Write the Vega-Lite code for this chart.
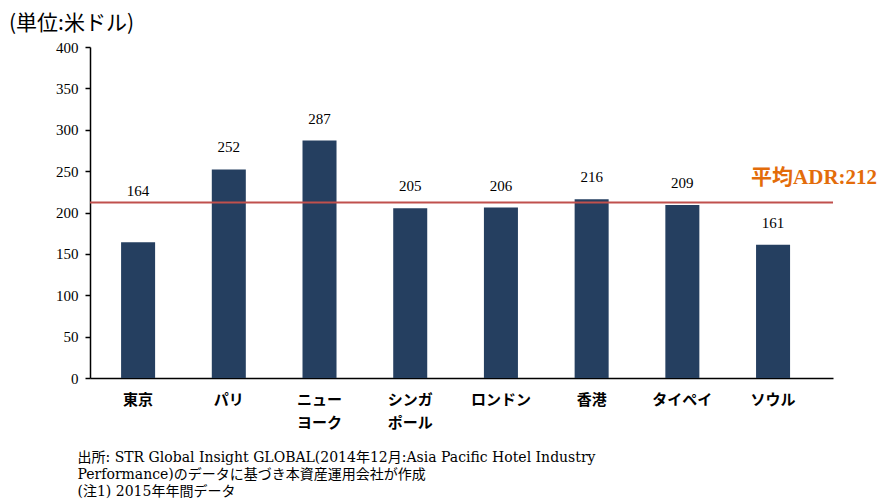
{
  "$schema": "https://vega.github.io/schema/vega-lite/v6.json",
  "width": 743,
  "height": 331,
  "autosize": "none",
  "padding": {"left": 90, "top": 47, "right": 48, "bottom": 124},
  "background": "white",
  "config": {"view": {"stroke": null}},
  "title": {"text": "(単位:米ドル)", "anchor": "start", "frame": "group", "dx": -81, "offset": 6, "fontSize": 21, "font": "Noto Sans CJK JP", "fontWeight": "normal", "color": "black"},
  "data": {"values": [
    {"city": "東京", "adr": 164},
    {"city": "パリ", "adr": 252},
    {"city": "ニューヨーク", "adr": 287},
    {"city": "シンガポール", "adr": 205},
    {"city": "ロンドン", "adr": 206},
    {"city": "香港", "adr": 216},
    {"city": "タイペイ", "adr": 209},
    {"city": "ソウル", "adr": 161}
  ]},
  "layer": [
    {
      "mark": {"type": "bar", "color": "#253F60"},
      "encoding": {
        "x": {"field": "city", "type": "nominal", "sort": null,
          "scale": {"paddingInner": 0.625, "paddingOuter": 0.408, "align": 0.42},
          "axis": {
            "title": ["出所: STR Global Insight GLOBAL(2014年12月:Asia Pacific Hotel Industry", "Performance)のデータに基づき本資産運用会社が作成", "(注1) 2015年年間データ"],
            "titleFont": "DejaVu Serif, Noto Sans CJK JP", "titleFontSize": 14, "titleFontWeight": "normal", "titleColor": "black",
            "titleAnchor": "start", "titleAlign": "left", "titleBaseline": "top", "titleX": -13, "titleY": 72, "titleLineHeight": 17,
            "labelAngle": 0, "labelFont": "Noto Sans CJK JP", "labelFontSize": 15, "labelFontWeight": "bold", "labelColor": "black",
            "labelPadding": 14, "labelLineHeight": 23, "ticks": false, "domainColor": "black", "domainWidth": 1.5,
            "labelExpr": "datum.value == 'ニューヨーク' ? ['ニュー','ヨーク'] : datum.value == 'シンガポール' ? ['シンガ','ポール'] : datum.value"
          }
        },
        "y": {"field": "adr", "type": "quantitative",
          "scale": {"domain": [0, 400]},
          "axis": {"title": null, "values": [0, 50, 100, 150, 200, 250, 300, 350, 400], "grid": false,
            "labelFont": "Liberation Serif", "labelFontSize": 15, "labelColor": "black", "labelPadding": 7,
            "tickSize": 5, "tickColor": "black", "tickWidth": 1.5, "domainColor": "black", "domainWidth": 1.5}
        }
      }
    },
    {
      "transform": [{"filter": "datum.city != '東京'"}],
      "mark": {"type": "text", "baseline": "bottom", "dy": -14, "font": "Liberation Serif", "fontSize": 15, "color": "black"},
      "encoding": {
        "x": {"field": "city", "type": "nominal", "sort": null},
        "y": {"field": "adr", "type": "quantitative"},
        "text": {"field": "adr", "type": "quantitative"}
      }
    },
    {
      "transform": [{"filter": "datum.city == '東京'"}],
      "mark": {"type": "text", "baseline": "bottom", "dy": -43, "font": "Liberation Serif", "fontSize": 15, "color": "black"},
      "encoding": {
        "x": {"field": "city", "type": "nominal", "sort": null},
        "y": {"field": "adr", "type": "quantitative"},
        "text": {"field": "adr", "type": "quantitative"}
      }
    },
    {
      "data": {"values": [{"avg": 212}]},
      "mark": {"type": "rule", "color": "#C0504D", "strokeWidth": 2},
      "encoding": {"y": {"field": "avg", "type": "quantitative"}}
    },
    {
      "data": {"values": [{"avg": 212, "city": "ソウル", "label": "平均ADR:212"}]},
      "mark": {"type": "text", "baseline": "middle", "align": "center", "dx": 41, "dy": -25, "font": "Liberation Serif, Noto Sans CJK JP", "fontSize": 21, "fontWeight": "bold", "color": "#E36C0A"},
      "encoding": {
        "x": {"field": "city", "type": "nominal", "sort": null},
        "y": {"field": "avg", "type": "quantitative"},
        "text": {"field": "label", "type": "nominal"}
      }
    }
  ]
}
